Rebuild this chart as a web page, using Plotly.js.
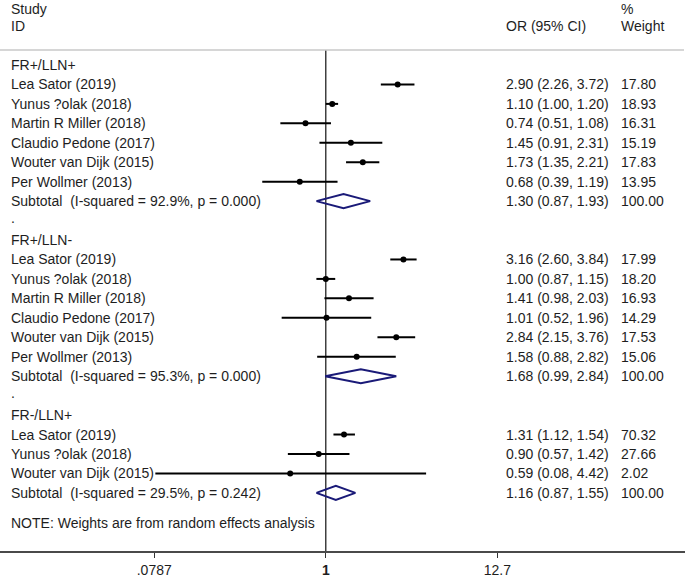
<!DOCTYPE html>
<html>
<head>
<meta charset="utf-8">
<script src="https://cdn.plot.ly/plotly-3.0.1.min.js"></script>
<style>html,body{margin:0;padding:0;background:#fff;}#chart{width:685px;height:579px;}</style>
</head>
<body>
<div id="chart"></div>
<script>
// ---- Data ----
var groupNames = ["FR+/LLN+", "FR+/LLN-", "FR-/LLN+"];
var g1Studies = ["Lea Sator (2019)", "Yunus ?olak (2018)", "Martin R Miller (2018)", "Claudio Pedone (2017)", "Wouter van Dijk (2015)", "Per Wollmer (2013)"];
var g1OR = [2.90, 1.10, 0.74, 1.45, 1.73, 0.68];
var g1Lo = [2.26, 1.00, 0.51, 0.91, 1.35, 0.39];
var g1Hi = [3.72, 1.20, 1.08, 2.31, 2.21, 1.19];
var g1W  = ["17.80", "18.93", "16.31", "15.19", "17.83", "13.95"];

var g2Studies = ["Lea Sator (2019)", "Yunus ?olak (2018)", "Martin R Miller (2018)", "Claudio Pedone (2017)", "Wouter van Dijk (2015)", "Per Wollmer (2013)"];
var g2OR = [3.16, 1.00, 1.41, 1.01, 2.84, 1.58];
var g2Lo = [2.60, 0.87, 0.98, 0.52, 2.15, 0.88];
var g2Hi = [3.84, 1.15, 2.03, 1.96, 3.76, 2.82];
var g2W  = ["17.99", "18.20", "16.93", "14.29", "17.53", "15.06"];

var g3Studies = ["Lea Sator (2019)", "Yunus ?olak (2018)", "Wouter van Dijk (2015)"];
var g3OR = [1.31, 0.90, 0.59];
var g3Lo = [1.12, 0.57, 0.08];
var g3Hi = [1.54, 1.42, 4.42];
var g3W  = ["70.32", "27.66", "2.02"];

var subLabels = ["Subtotal  (I-squared = 92.9%, p = 0.000)", "Subtotal  (I-squared = 95.3%, p = 0.000)", "Subtotal  (I-squared = 29.5%, p = 0.242)"];
var subOR = [1.30, 1.68, 1.16];
var subLo = [0.87, 0.99, 0.87];
var subHi = [1.93, 2.84, 1.55];
var subW  = ["100.00", "100.00", "100.00"];

var tickVals = [0.0787, 1, 12.7];
var tickText = [".0787", "<b>1</b>", "12.7"];
var noteText = "NOTE: Weights are from random effects analysis";

// ---- Layout helpers ----
var W = 685, H = 579;
var FONT = "Liberation Sans, Arial, sans-serif";
var TXT = "#1e1e1e";
var colStudy = 10 / W, colStat = 505 / W, colWeight = 620 / W;
var yTop = -3.342, yBot = 24.99;
var headerLineY = -0.771;

var groups = [
  {studies: g1Studies, or: g1OR, lo: g1Lo, hi: g1Hi, w: g1W},
  {studies: g2Studies, or: g2OR, lo: g2Lo, hi: g2Hi, w: g2W},
  {studies: g3Studies, or: g3OR, lo: g3Lo, hi: g3Hi, w: g3W}
];

var ann = [];
function txt(x, y, s, extra) {
  var a = {xref: "paper", yref: "y", x: x, y: y, text: s, showarrow: false,
           xanchor: "left", yanchor: "middle", borderpad: 0,
           font: {family: FONT, size: 14, color: TXT}};
  if (extra) for (var k in extra) a[k] = extra[k];
  ann.push(a);
}
function fmtCI(o, l, h) { return o.toFixed(2) + " (" + l.toFixed(2) + ", " + h.toFixed(2) + ")"; }

// header
txt(colStudy, -2.9, "Study");
txt(colStudy, -2.0, "ID");
txt(colStat, -2.0, "OR (95% CI)");
txt(colWeight, -2.9, "%");
txt(colWeight, -2.0, "Weight");

var ciX = [], ciY = [], ptX = [], ptY = [];
var diaTraces = [];
var row = 0;
groups.forEach(function (g, gi) {
  txt(colStudy, row, groupNames[gi]);
  row++;
  for (var i = 0; i < g.studies.length; i++) {
    txt(colStudy, row, g.studies[i]);
    txt(colStat, row, fmtCI(g.or[i], g.lo[i], g.hi[i]));
    txt(colWeight, row, g.w[i]);
    ciX.push(g.lo[i], g.hi[i], null); ciY.push(row, row, null);
    ptX.push(g.or[i]); ptY.push(row);
    row++;
  }
  txt(colStudy, row, subLabels[gi]);
  txt(colStat, row, fmtCI(subOR[gi], subLo[gi], subHi[gi]));
  txt(colWeight, row, subW[gi]);
  diaTraces.push({
    type: "scatter", mode: "lines",
    x: [subLo[gi], subOR[gi], subHi[gi], subOR[gi], subLo[gi]],
    y: [row, row - 0.36, row, row + 0.36, row],
    line: {color: "#1a1a78", width: 2}, hoverinfo: "skip", showlegend: false
  });
  row++;
  if (gi < groups.length - 1) { txt(colStudy, row - 0.15, "."); row++; }
});
txt(colStudy, row + 0.55, noteText);

var traces = [];
traces.push({type: "scatter", mode: "lines", x: [1, 1], y: [headerLineY, yBot],
             line: {color: "#111", width: 1.2}, hoverinfo: "skip", showlegend: false});
traces.push({type: "scatter", mode: "lines", x: ciX, y: ciY, connectgaps: false,
             line: {color: "#000", width: 2}, hoverinfo: "skip", showlegend: false});
traces.push({type: "scatter", mode: "markers", x: ptX, y: ptY,
             marker: {symbol: "circle", size: 6, color: "#000"}, hoverinfo: "skip", showlegend: false});
traces = traces.concat(diaTraces);

var pxPerDec = 155.4, x1px = 325.8;
var layout = {
  width: W, height: H,
  margin: {l: 0, r: 0, t: 0, b: 28, pad: 0},
  paper_bgcolor: "#fff", plot_bgcolor: "#fff",
  showlegend: false,
  font: {family: FONT, size: 14, color: TXT},
  xaxis: {
    type: "log", range: [-x1px / pxPerDec, (W - x1px) / pxPerDec],
    tickmode: "array", tickvals: tickVals, ticktext: tickText,
    ticks: "outside", ticklen: 5, tickcolor: "#333", tickwidth: 1,
    ticklabelstandoff: 1,
    showline: true, linecolor: "#4a4a4a", linewidth: 1.6,
    showgrid: false, zeroline: false, fixedrange: true,
    tickfont: {family: FONT, size: 14, color: TXT}
  },
  yaxis: {
    range: [yBot, yTop], showgrid: false, zeroline: false, showline: false,
    showticklabels: false, ticks: "", fixedrange: true
  },
  shapes: [{type: "line", xref: "paper", yref: "y", x0: 0, x1: 684 / W,
            y0: headerLineY, y1: headerLineY, line: {color: "#c8c8c8", width: 1.5}}],
  annotations: ann
};

Plotly.newPlot("chart", traces, layout, {staticPlot: true, displayModeBar: false});
</script>
</body>
</html>
